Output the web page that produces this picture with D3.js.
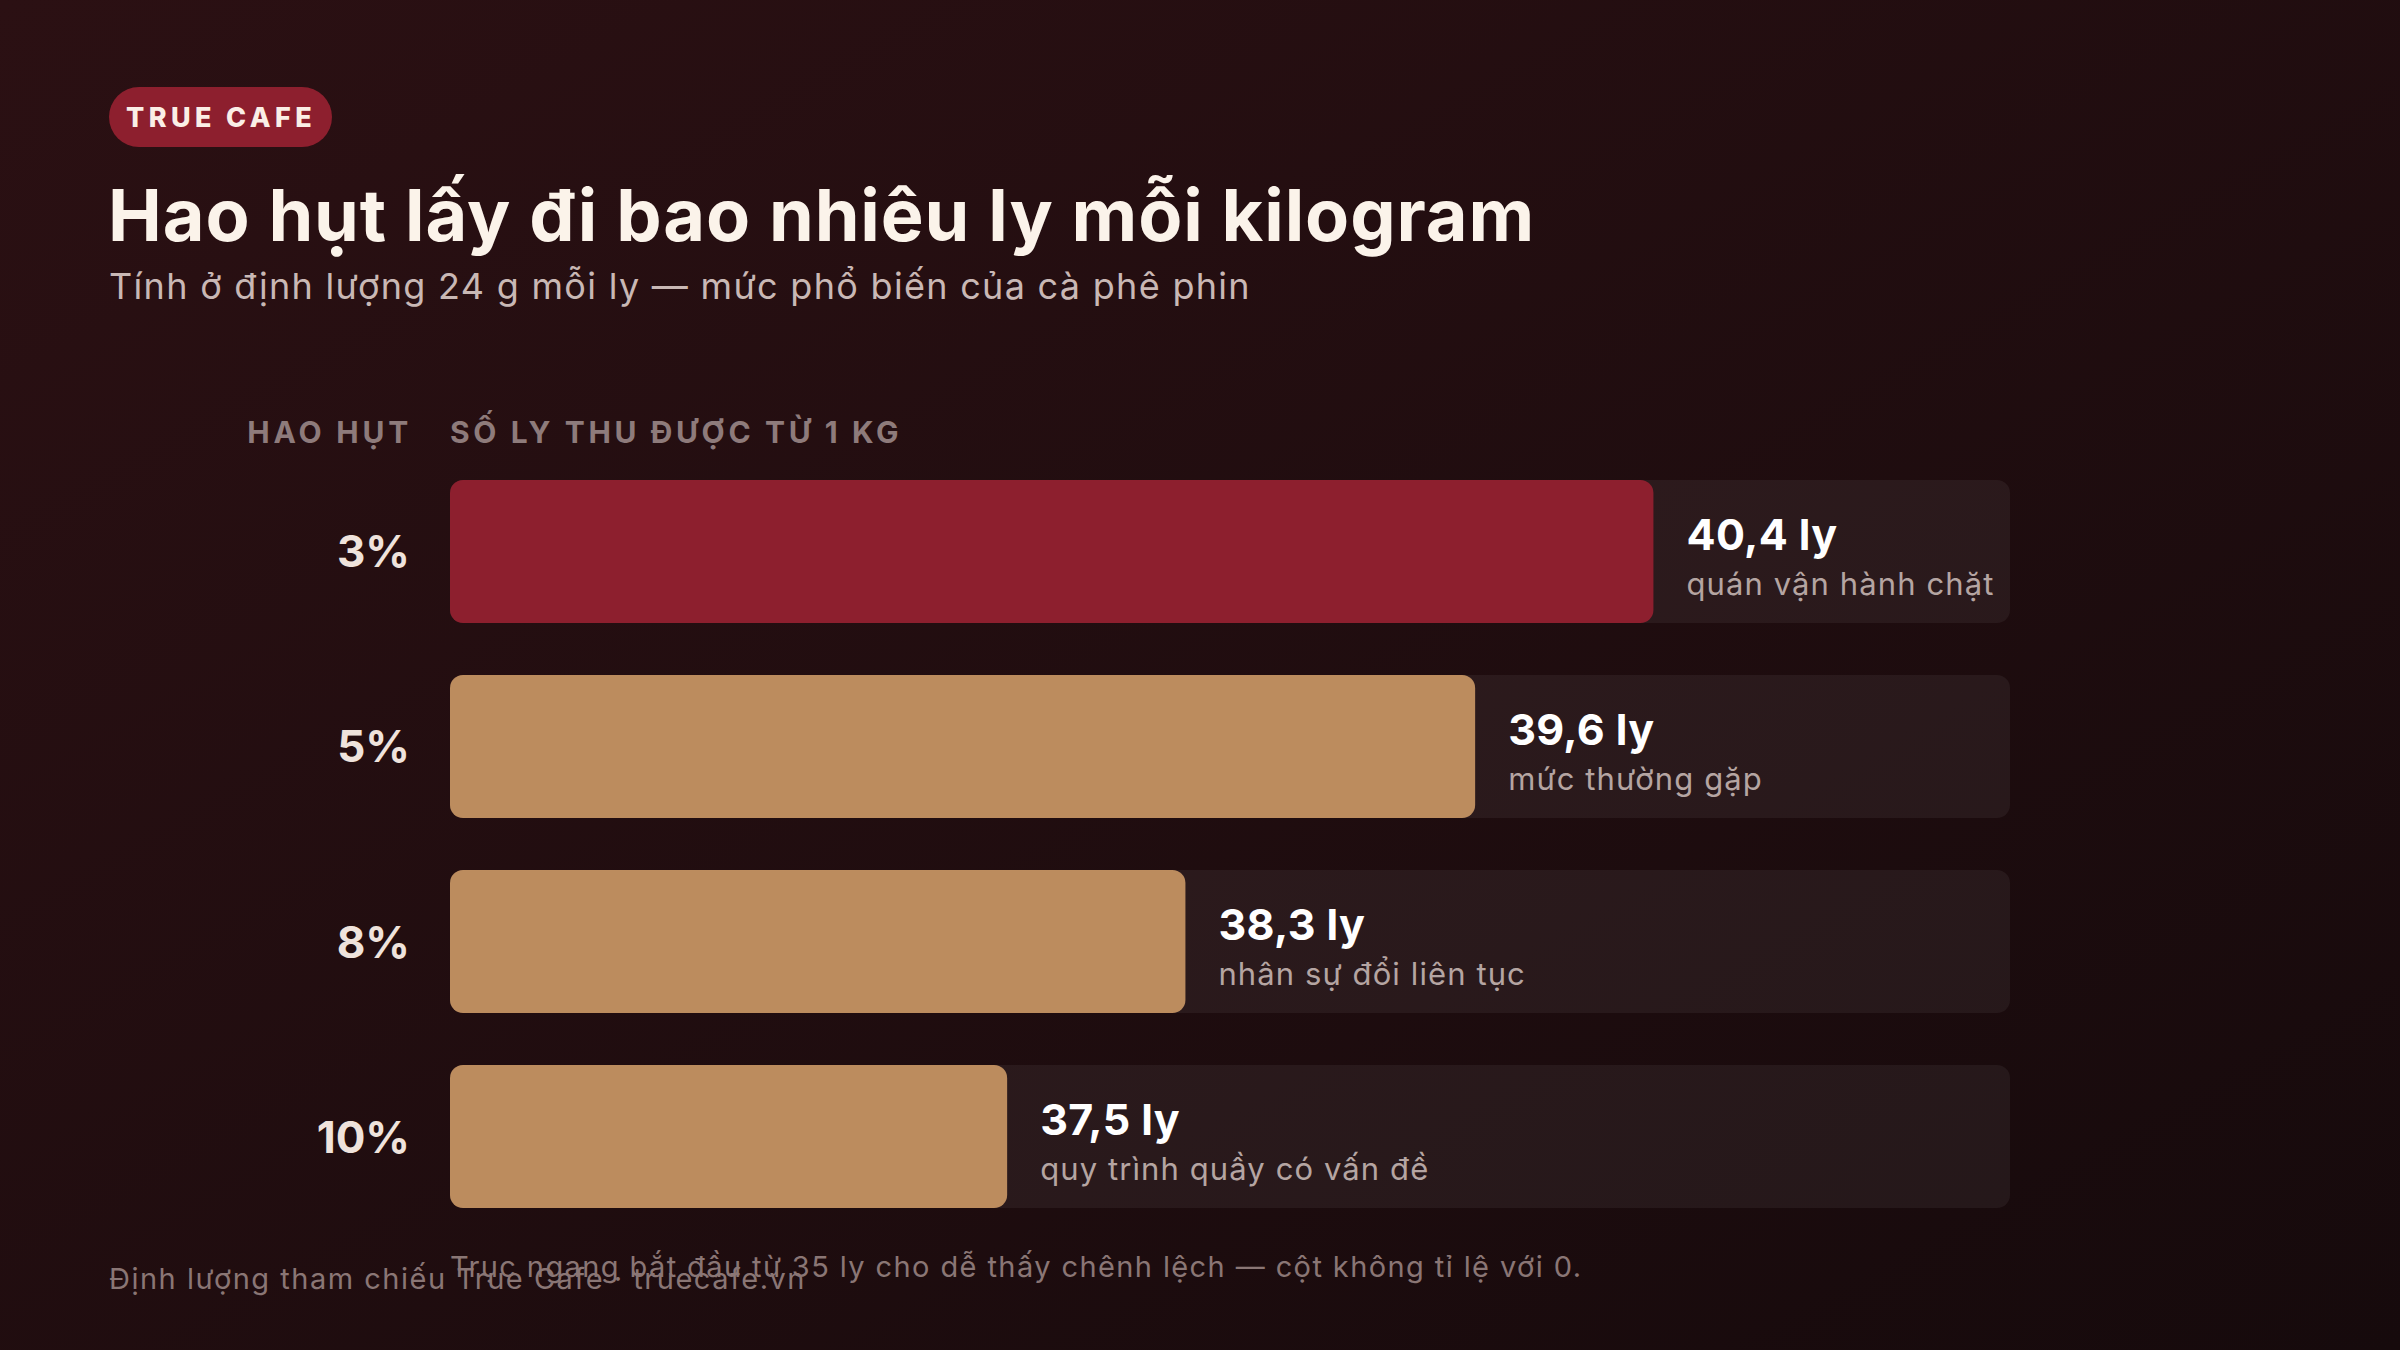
<!DOCTYPE html>
<html>
<head>
<meta charset="utf-8">
<script src="https://cdn.jsdelivr.net/npm/d3@7"></script>
<style>
  html, body { margin: 0; padding: 0; background: #1c0b0e; }
  svg { display: block; }
</style>
</head>
<body>
<div id="chart"></div>
<script>
const losses = ['3%', '5%', '8%', '10%'];
const cups = [40.4, 39.6, 38.3, 37.5];
const notes = ['quán vận hành chặt', 'mức thường gặp', 'nhân sự đổi liên tục', 'quy trình quầy có vấn đề'];
const axisDomain = [35, 42];

const width = 2400;
const height = 1350;
const margin = { top: 480, left: 450, right: 390 };
const font = 'Inter, "Open Sans", sans-serif';

const vi = d3.formatLocale({ decimal: ',', thousands: '.', grouping: [3], currency: ['', ''] });
const fmt = vi.format('.1f');

const svg = d3.select('#chart')
  .append('svg')
  .attr('width', width)
  .attr('height', height)
  .attr('viewBox', [0, 0, width, height])
  .style('font-family', font);

// background
const defs = svg.append('defs');
const grad = defs.append('linearGradient')
  .attr('id', 'bg')
  .attr('x1', 0).attr('y1', 0).attr('x2', 1).attr('y2', 1);
grad.append('stop').attr('offset', '0%').attr('stop-color', '#2b1013');
grad.append('stop').attr('offset', '100%').attr('stop-color', '#160a0c');
svg.append('rect').attr('width', width).attr('height', height).attr('fill', 'url(#bg)');

// badge
svg.append('rect')
  .attr('x', 109).attr('y', 87)
  .attr('width', 223).attr('height', 60)
  .attr('rx', 30)
  .attr('fill', '#8d1f2e');
svg.append('text')
  .attr('x', 221).attr('y', 127)
  .attr('text-anchor', 'middle')
  .attr('fill', '#fbeee6')
  .attr('font-size', 27)
  .attr('font-weight', 800)
  .attr('letter-spacing', 4.4)
  .text('TRUE CAFE');

// title + subtitle
svg.append('text')
  .attr('x', 108).attr('y', 241)
  .attr('fill', '#fbf3ea')
  .attr('font-size', 72)
  .attr('font-weight', 700)
  .attr('letter-spacing', 0.9)
  .text('Hao hụt lấy đi bao nhiêu ly mỗi kilogram');
svg.append('text')
  .attr('x', 109).attr('y', 299)
  .attr('fill', '#c9b8b5')
  .attr('font-size', 36)
  .attr('letter-spacing', 1.3)
  .text('Tính ở định lượng 24 g mỗi ly — mức phổ biến của cà phê phin');

// scales
const x = d3.scaleLinear()
  .domain(axisDomain)
  .range([margin.left, width - margin.right]);

const y = d3.scaleBand()
  .domain(losses)
  .range([margin.top, margin.top + 728])
  .paddingInner(0.267)
  .paddingOuter(0);

// column headers
svg.append('text')
  .attr('x', 412).attr('y', 443)
  .attr('text-anchor', 'end')
  .attr('fill', '#8e7b7b')
  .attr('font-size', 30)
  .attr('font-weight', 700)
  .attr('letter-spacing', 3.8)
  .text('HAO HỤT');
svg.append('text')
  .attr('x', x(axisDomain[0])).attr('y', 443)
  .attr('fill', '#8e7b7b')
  .attr('font-size', 30)
  .attr('font-weight', 700)
  .attr('letter-spacing', 3.6)
  .text('SỐ LY THU ĐƯỢC TỪ 1 KG');

const rows = svg.append('g')
  .selectAll('g')
  .data(losses)
  .join('g')
  .attr('transform', d => `translate(0,${y(d)})`);

// track
rows.append('rect')
  .attr('x', x(axisDomain[0]))
  .attr('width', x(axisDomain[1]) - x(axisDomain[0]))
  .attr('height', y.bandwidth())
  .attr('rx', 13)
  .attr('fill', '#ffffff')
  .attr('fill-opacity', 0.055);

// bar
rows.append('rect')
  .attr('x', x(axisDomain[0]))
  .attr('width', (d, i) => x(cups[i]) - x(axisDomain[0]))
  .attr('height', y.bandwidth())
  .attr('rx', 13)
  .attr('fill', (d, i) => i === 0 ? '#8d1f2e' : '#bc8c5e');

// row labels
rows.append('text')
  .attr('x', 410)
  .attr('y', y.bandwidth() / 2 + 16)
  .attr('text-anchor', 'end')
  .attr('fill', '#efe3dc')
  .attr('font-size', 44)
  .attr('font-weight', 700)
  .text(d => d);

// value labels
rows.append('text')
  .attr('x', (d, i) => x(cups[i]) + 33)
  .attr('y', 70)
  .attr('fill', '#ffffff')
  .attr('font-size', 43)
  .attr('font-weight', 700)
  .attr('letter-spacing', 0.4)
  .text((d, i) => fmt(cups[i]) + ' ly');
rows.append('text')
  .attr('x', (d, i) => x(cups[i]) + 33)
  .attr('y', 115)
  .attr('fill', '#b5a5a2')
  .attr('font-size', 31)
  .attr('letter-spacing', 1.1)
  .text((d, i) => notes[i]);

// footers (they overlap in the original)
svg.append('text')
  .attr('x', 109).attr('y', 1289)
  .attr('fill', '#8a7675')
  .attr('font-size', 29)
  .attr('letter-spacing', 1.5)
  .text('Định lượng tham chiếu True Cafe · truecafe.vn');
svg.append('text')
  .attr('x', x(axisDomain[0])).attr('y', 1277)
  .attr('fill', '#8a7675')
  .attr('font-size', 29)
  .attr('letter-spacing', 1.4)
  .text('Trục ngang bắt đầu từ 35 ly cho dễ thấy chênh lệch — cột không tỉ lệ với 0.');
</script>
</body>
</html>
